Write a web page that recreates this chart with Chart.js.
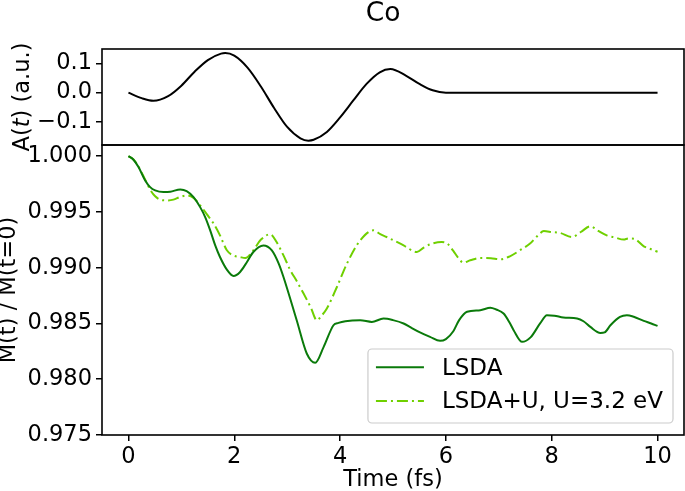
<!DOCTYPE html>
<html><head><meta charset="utf-8">
<script src="https://cdn.jsdelivr.net/npm/chart.js@4.4.1/dist/chart.umd.min.js"></script>
<style>html,body{margin:0;padding:0;background:#fff;}canvas{display:block;}</style>
</head><body>
<canvas id="c" width="685" height="491"></canvas>
<script>
// ---- data ----
const chartTitle = 'Co';
const xTicks = [0, 2, 4, 6, 8, 10];
const aTicks = [-0.1, 0.0, 0.1];
const mTicks = [0.975, 0.980, 0.985, 0.990, 0.995, 1.000];
const seriesLabels = ['LSDA', 'LSDA+U, U=3.2 eV'];

const tA = [0, 0.25, 0.47, 0.75, 1.0, 1.25, 1.5, 1.75, 1.83, 2.0, 2.25, 2.5, 2.75, 3.0, 3.25, 3.4, 3.5, 3.75, 4.0, 4.25, 4.5, 4.75, 4.95, 5.25, 5.5, 5.75, 6.0, 7, 8, 9, 10];
const fieldA = [0, -0.019, -0.028, -0.012, 0.024, 0.072, 0.112, 0.134, 0.136, 0.127, 0.086, 0.022, -0.052, -0.118, -0.157, -0.165, -0.162, -0.135, -0.085, -0.027, 0.030, 0.070, 0.081, 0.058, 0.030, 0.008, 0.0, 0, 0, 0, 0];

const tLSDA = [0, 0.095, 0.19, 0.316, 0.41, 0.505, 0.66, 0.79, 0.98, 1.10, 1.23, 1.355, 1.45, 1.545, 1.64, 1.73, 1.86, 1.985, 2.11, 2.24, 2.36, 2.55, 2.71, 2.84, 2.93, 3.18, 3.37, 3.53, 3.69, 3.875, 3.97, 4.1, 4.38, 4.6, 4.82, 5.0, 5.2, 5.35, 5.51, 5.7, 5.89, 6.0, 6.14, 6.25, 6.4, 6.65, 6.84, 6.95, 7.09, 7.2, 7.28, 7.44, 7.6, 7.78, 7.91, 8.05, 8.22, 8.48, 8.6, 8.73, 8.92, 9.0, 9.11, 9.29, 9.42, 9.55, 9.74, 9.88, 10.0];
const mLSDA = [1.0000, 0.99968, 0.99902, 0.99782, 0.99722, 0.99693, 0.99678, 0.99681, 0.99702, 0.99687, 0.99633, 0.99543, 0.99454, 0.99335, 0.99200, 0.99096, 0.98983, 0.98926, 0.98962, 0.99051, 0.99141, 0.99200, 0.99156, 0.99037, 0.98917, 0.98529, 0.98231, 0.98147, 0.98290, 0.98484, 0.98505, 0.98520, 0.98529, 0.98514, 0.98544, 0.98530, 0.98500, 0.98460, 0.98420, 0.98380, 0.98344, 0.98360, 0.98430, 0.98530, 0.98605, 0.98619, 0.98641, 0.98625, 0.98589, 0.98510, 0.98440, 0.98335, 0.98375, 0.98500, 0.98574, 0.98570, 0.98553, 0.98544, 0.98520, 0.98469, 0.98415, 0.98420, 0.98484, 0.98559, 0.98574, 0.98560, 0.98523, 0.98500, 0.98478];

const tLDAU = [0, 0.095, 0.19, 0.316, 0.41, 0.505, 0.6, 0.73, 0.85, 0.98, 1.10, 1.23, 1.355, 1.48, 1.61, 1.73, 1.86, 1.98, 2.11, 2.21, 2.36, 2.5, 2.68, 2.8, 2.93, 3.06, 3.18, 3.31, 3.45, 3.56, 3.65, 3.75, 3.94, 4.13, 4.38, 4.63, 4.76, 4.88, 5.01, 5.2, 5.39, 5.45, 5.58, 5.7, 5.92, 6.03, 6.14, 6.23, 6.33, 6.46, 6.65, 6.85, 7.03, 7.2, 7.4, 7.59, 7.72, 7.85, 8.0, 8.16, 8.38, 8.55, 8.73, 8.88, 9.04, 9.2, 9.36, 9.45, 9.55, 9.74, 9.88, 10.0];
const mLDAU = [1.0000, 0.99970, 0.99905, 0.99790, 0.99700, 0.99640, 0.99610, 0.99603, 0.99610, 0.99635, 0.99648, 0.99625, 0.99559, 0.99480, 0.99395, 0.99290, 0.99156, 0.99110, 0.99095, 0.99087, 0.99156, 0.99250, 0.99300, 0.99230, 0.99110, 0.98977, 0.98880, 0.98768, 0.98640, 0.98529, 0.98570, 0.98634, 0.98827, 0.99037, 0.99245, 0.99335, 0.99300, 0.99275, 0.99245, 0.99200, 0.99147, 0.99141, 0.99180, 0.99209, 0.99230, 0.99215, 0.99150, 0.99090, 0.99046, 0.99066, 0.99088, 0.99085, 0.99075, 0.99100, 0.99156, 0.99216, 0.99280, 0.99328, 0.99320, 0.99311, 0.99275, 0.99320, 0.99371, 0.99330, 0.99290, 0.99270, 0.99252, 0.99262, 0.99260, 0.99192, 0.99165, 0.99143];

// ---- styling ----
const FONT = "'DejaVu Sans', sans-serif";
const FS = 22.5;
const C_LSDA = '#0a7a0a';
const C_LDAU = '#6fd000';
Chart.defaults.font.family = FONT;
Chart.defaults.font.size = FS;
Chart.defaults.color = '#000';

const pts = (xs, ys) => xs.map((x, i) => ({x, y: ys[i]}));
const minus = s => s.replace('-', '\u2212');

const titlePlugin = {
  id: 'figTitle',
  afterDraw(chart) {
    const ctx = chart.ctx;
    ctx.save();
    ctx.font = '26.5px ' + FONT;
    ctx.fillStyle = '#000';
    ctx.textAlign = 'center';
    ctx.textBaseline = 'alphabetic';
    ctx.fillText(chartTitle, 383, 20.7);
    // A(t) axis label with italic t
    const s = chart.scales.yA;
    const parts = [['A(', ''], ['t', 'italic '], [') (a.u.)', '']];
    let total = 0;
    parts.forEach(p => { ctx.font = p[1] + FS + 'px ' + FONT; p.w = ctx.measureText(p[0]).width; total += p.w; });
    ctx.translate(29, (s.top + s.bottom) / 2);
    ctx.rotate(-Math.PI / 2);
    ctx.textAlign = 'left';
    let x = -total / 2;
    parts.forEach(p => { ctx.font = p[1] + FS + 'px ' + FONT; ctx.fillText(p[0], x, 0); x += p.w; });
    ctx.restore();
  }
};

const framePlugin = {
  id: 'frames',
  afterDatasetsDraw(chart) {
    const {ctx, chartArea: a} = chart;
    ctx.save();
    ctx.strokeStyle = '#000';
    ctx.lineWidth = 1.6;
    ['yA', 'yM'].forEach(id => {
      const s = chart.scales[id];
      ctx.strokeRect(a.left, s.top, a.right - a.left, s.bottom - s.top);
    });
    ctx.restore();
  }
};

const legendPlugin = {
  id: 'boxLegend',
  afterDatasetsDraw(chart) {
    const {ctx, chartArea: a} = chart;
    const items = chart.data.datasets.filter(d => d.inLegend);
    ctx.save();
    ctx.font = '23px ' + FONT;
    const tw = Math.max(...items.map(d => ctx.measureText(d.label).width));
    const w = 8 + 48 + 18 + tw + 10, h = 74;
    const right = a.right - 11, bottom = a.bottom - 12;
    const left = right - w, top = bottom - h;
    ctx.beginPath();
    ctx.roundRect(left, top, w, h, 4);
    ctx.fillStyle = 'rgba(255,255,255,0.85)';
    ctx.fill();
    ctx.strokeStyle = '#cccccc';
    ctx.lineWidth = 1.2;
    ctx.stroke();
    items.forEach((d, i) => {
      const ty = top + 19.7 + i * 33.8;
      ctx.beginPath();
      ctx.setLineDash(d.borderDash || []);
      ctx.strokeStyle = d.borderColor;
      ctx.lineWidth = d.borderWidth;
      ctx.moveTo(left + 8, ty - 1.5);
      ctx.lineTo(left + 56, ty - 1.5);
      ctx.stroke();
      ctx.setLineDash([]);
      ctx.fillStyle = '#000';
      ctx.textAlign = 'left';
      ctx.textBaseline = 'middle';
      ctx.fillText(d.label, left + 74, ty);
    });
    ctx.restore();
  }
};

const tickGrid = {drawOnChartArea: false, drawTicks: true, tickLength: 6, color: '#000', tickColor: '#000', lineWidth: 1.5, tickWidth: 1.5};
const tickFont = {family: FONT, size: FS};

new Chart(document.getElementById('c'), {
  type: 'line',
  data: {
    datasets: [
      {label: 'A(t)', data: pts(tA, fieldA), xAxisID: 'x', yAxisID: 'yA', borderColor: '#000', borderWidth: 2, pointRadius: 0, cubicInterpolationMode: 'monotone', inLegend: false},
      {label: seriesLabels[0], data: pts(tLSDA, mLSDA), xAxisID: 'x', yAxisID: 'yM', borderColor: C_LSDA, borderWidth: 2, pointRadius: 0, cubicInterpolationMode: 'monotone', inLegend: true},
      {label: seriesLabels[1], data: pts(tLDAU, mLDAU), xAxisID: 'x', yAxisID: 'yM', borderColor: C_LDAU, borderWidth: 2, borderDash: [11, 4, 2, 4], pointRadius: 0, cubicInterpolationMode: 'monotone', inLegend: true}
    ]
  },
  options: {
    responsive: false,
    animation: false,
    layout: {padding: {top: 49, right: 1, left: 0, bottom: 0}},
    plugins: {legend: {display: false}, tooltip: {enabled: false}, title: {display: false}},
    scales: {
      x: {
        type: 'linear', position: 'bottom', min: -0.5, max: 10.5,
        afterFit(s) { s.height = 56; },
        afterBuildTicks(s) { s.ticks = xTicks.map(v => ({value: v})); },
        ticks: {padding: 3, maxRotation: 0, autoSkip: false, font: tickFont, color: '#000', callback: v => String(v)},
        grid: tickGrid, border: {display: false},
        title: {display: true, text: 'Time (fs)', padding: 0, color: '#000', font: {family: FONT, size: FS, lineHeight: 1}}
      },
      yM: {
        type: 'linear', position: 'left', stack: 'panels', stackWeight: 290, weight: 1,
        min: 0.975, max: 1.001,
        afterFit(s) { s.width = 102; },
        afterBuildTicks(s) { s.ticks = mTicks.map(v => ({value: v})); },
        ticks: {padding: 4, autoSkip: false, font: tickFont, color: '#000', callback: v => v.toFixed(3)},
        grid: tickGrid, border: {display: false},
        title: {display: true, text: 'M(t) / M(t=0)', padding: 0, color: '#000', font: {family: FONT, size: FS, lineHeight: 0.82}}
      },
      yA: {
        type: 'linear', position: 'left', stack: 'panels', stackWeight: 96, weight: 2,
        min: -0.18, max: 0.15,
        afterFit(s) { s.width = 102; },
        afterBuildTicks(s) { s.ticks = aTicks.map(v => ({value: v})); },
        ticks: {padding: 4, autoSkip: false, font: tickFont, color: '#000', callback: v => minus(v.toFixed(1))},
        grid: tickGrid, border: {display: false}
      }
    }
  },
  plugins: [framePlugin, legendPlugin, titlePlugin]
});
</script>
</body></html>
